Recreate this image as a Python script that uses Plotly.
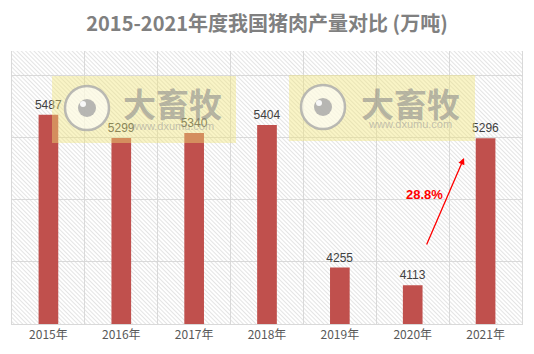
import base64
import plotly.graph_objects as go

# ---- data ----
years = ["2015年", "2016年", "2017年", "2018年", "2019年", "2020年", "2021年"]
output = [5487, 5299, 5340, 5404, 4255, 4113, 5296]
growth_label = "28.8%"
title_text = "2015-2021年度我国猪肉产量对比 (万吨)"
wm_text = "大畜牧"
wm_url = "www.dxumu.com"

W, H = 534, 354
ML, MR, MT, MB = 12, 12, 51, 30
PW, PH = W - ML - MR, H - MT - MB

def px(x):
    return (x - ML) / PW

def py(y):
    return (H - MB - y) / PH

# hatched plot background as an svg image
svg = (
    f'<svg xmlns="http://www.w3.org/2000/svg" width="{PW}" height="{PH}">'
    '<defs><pattern id="p" width="3" height="3" patternUnits="userSpaceOnUse" '
    'patternTransform="rotate(-45)">'
    '<line x1="0" y1="0" x2="0" y2="3" stroke="#c4c4c4" stroke-width="0.9"/>'
    '</pattern></defs>'
    f'<rect width="{PW}" height="{PH}" fill="#ffffff"/>'
    f'<rect width="{PW}" height="{PH}" fill="url(#p)"/></svg>'
)
src = "data:image/svg+xml;base64," + base64.b64encode(svg.encode()).decode()

fig = go.Figure()
fig.add_trace(go.Bar(
    x=years, y=output, width=0.27,
    marker=dict(color="#C0504D", line=dict(width=0)),
    text=[str(v) for v in output], textposition="outside", constraintext="none",
    textfont=dict(color="#404040", size=12, family="Liberation Sans, Arial"),
    cliponaxis=False,
))

grid = "#d9d9d9"
fig.update_layout(
    width=W, height=H,
    margin=dict(l=ML, r=MR, t=MT, b=MB),
    paper_bgcolor="white",
    plot_bgcolor="rgba(0,0,0,0)",
    showlegend=False,
    title=dict(text=title_text, x=0.5, xanchor="center", y=1 - 24 / H, yanchor="middle",
               yref="container",
               font=dict(size=20, color="#808080", family="Noto Sans CJK SC", weight="bold")),
    xaxis=dict(tickson="boundaries", showgrid=True, gridcolor=grid, gridwidth=1,
               showline=True, linecolor=grid, linewidth=1, ticks="",
               tickfont=dict(size=12, color="#595959", family="Microsoft YaHei, Noto Sans CJK SC")),
    yaxis=dict(range=[3800, 6000], tick0=3800, dtick=500, showticklabels=False,
               showgrid=True, gridcolor=grid, gridwidth=1, zeroline=False,
               showline=True, mirror=True, linecolor=grid, linewidth=1, ticks=""),
    images=[dict(source=src, xref="paper", yref="paper", x=0, y=1, sizex=1, sizey=1,
                 xanchor="left", yanchor="top", sizing="stretch", layer="below")],
)

shapes = []
annots = []
wms = [  # (rect x0,x1,y0,y1, circle cx,cy, text cx, text cy, url cy)
    (52, 236, 76, 143, 87, 108, 172, 103, 126),
    (289, 475, 75, 141, 323, 107, 410, 103, 124),
]
for x0, x1, y0, y1, cx, cy, tx, ty, uy in wms:
    shapes.append(dict(type="rect", xref="paper", yref="paper", x0=px(x0), x1=px(x1),
                       y0=py(y1), y1=py(y0), fillcolor="rgba(240,228,120,0.42)",
                       line=dict(width=0), layer="above"))
    shapes.append(dict(type="circle", xref="paper", yref="paper", xsizemode="pixel", ysizemode="pixel",
                       xanchor=px(cx), yanchor=py(cy), x0=-22, x1=22, y0=-22, y1=22,
                       fillcolor="rgba(255,255,255,0.6)", line=dict(color="rgba(170,170,170,0.8)", width=2.5),
                       layer="above"))
    shapes.append(dict(type="circle", xref="paper", yref="paper", xsizemode="pixel", ysizemode="pixel",
                       xanchor=px(cx), yanchor=py(cy), x0=-9, x1=9, y0=-9, y1=9,
                       fillcolor="rgba(165,165,165,0.8)", line=dict(width=0), layer="above"))
    shapes.append(dict(type="circle", xref="paper", yref="paper", xsizemode="pixel", ysizemode="pixel",
                       xanchor=px(cx - 4), yanchor=py(cy - 4), x0=-3, x1=3, y0=-3, y1=3,
                       fillcolor="rgba(255,255,255,0.9)", line=dict(width=0), layer="above"))
    annots.append(dict(text=f"<b>{wm_text}</b>", xref="paper", yref="paper", x=px(tx), y=py(ty),
                       showarrow=False, xanchor="center", yanchor="middle",
                       font=dict(size=33, color="rgba(140,140,140,0.6)", family="Noto Sans CJK SC")))
    annots.append(dict(text=wm_url, xref="paper", yref="paper", x=px(tx), y=py(uy),
                       showarrow=False, xanchor="center", yanchor="middle",
                       font=dict(size=11, color="rgba(150,150,150,0.55)", family="Liberation Sans, Arial")))

# growth arrow and label
annots.append(dict(text="", xref="paper", yref="paper", x=px(464), y=py(158),
                   ax=426 - 464, ay=246 - 158, axref="pixel", ayref="pixel",
                   showarrow=True, arrowhead=2, arrowsize=1, arrowwidth=1.3, arrowcolor="#ff0000"))
annots.append(dict(text=f"<b>{growth_label}</b>", xref="paper", yref="paper", x=px(424), y=py(194),
                   showarrow=False, xanchor="center", yanchor="middle",
                   font=dict(size=13, color="#ff0000", family="Liberation Sans, Arial")))

fig.update_layout(shapes=shapes, annotations=annots)
fig.write_html("out.html")
